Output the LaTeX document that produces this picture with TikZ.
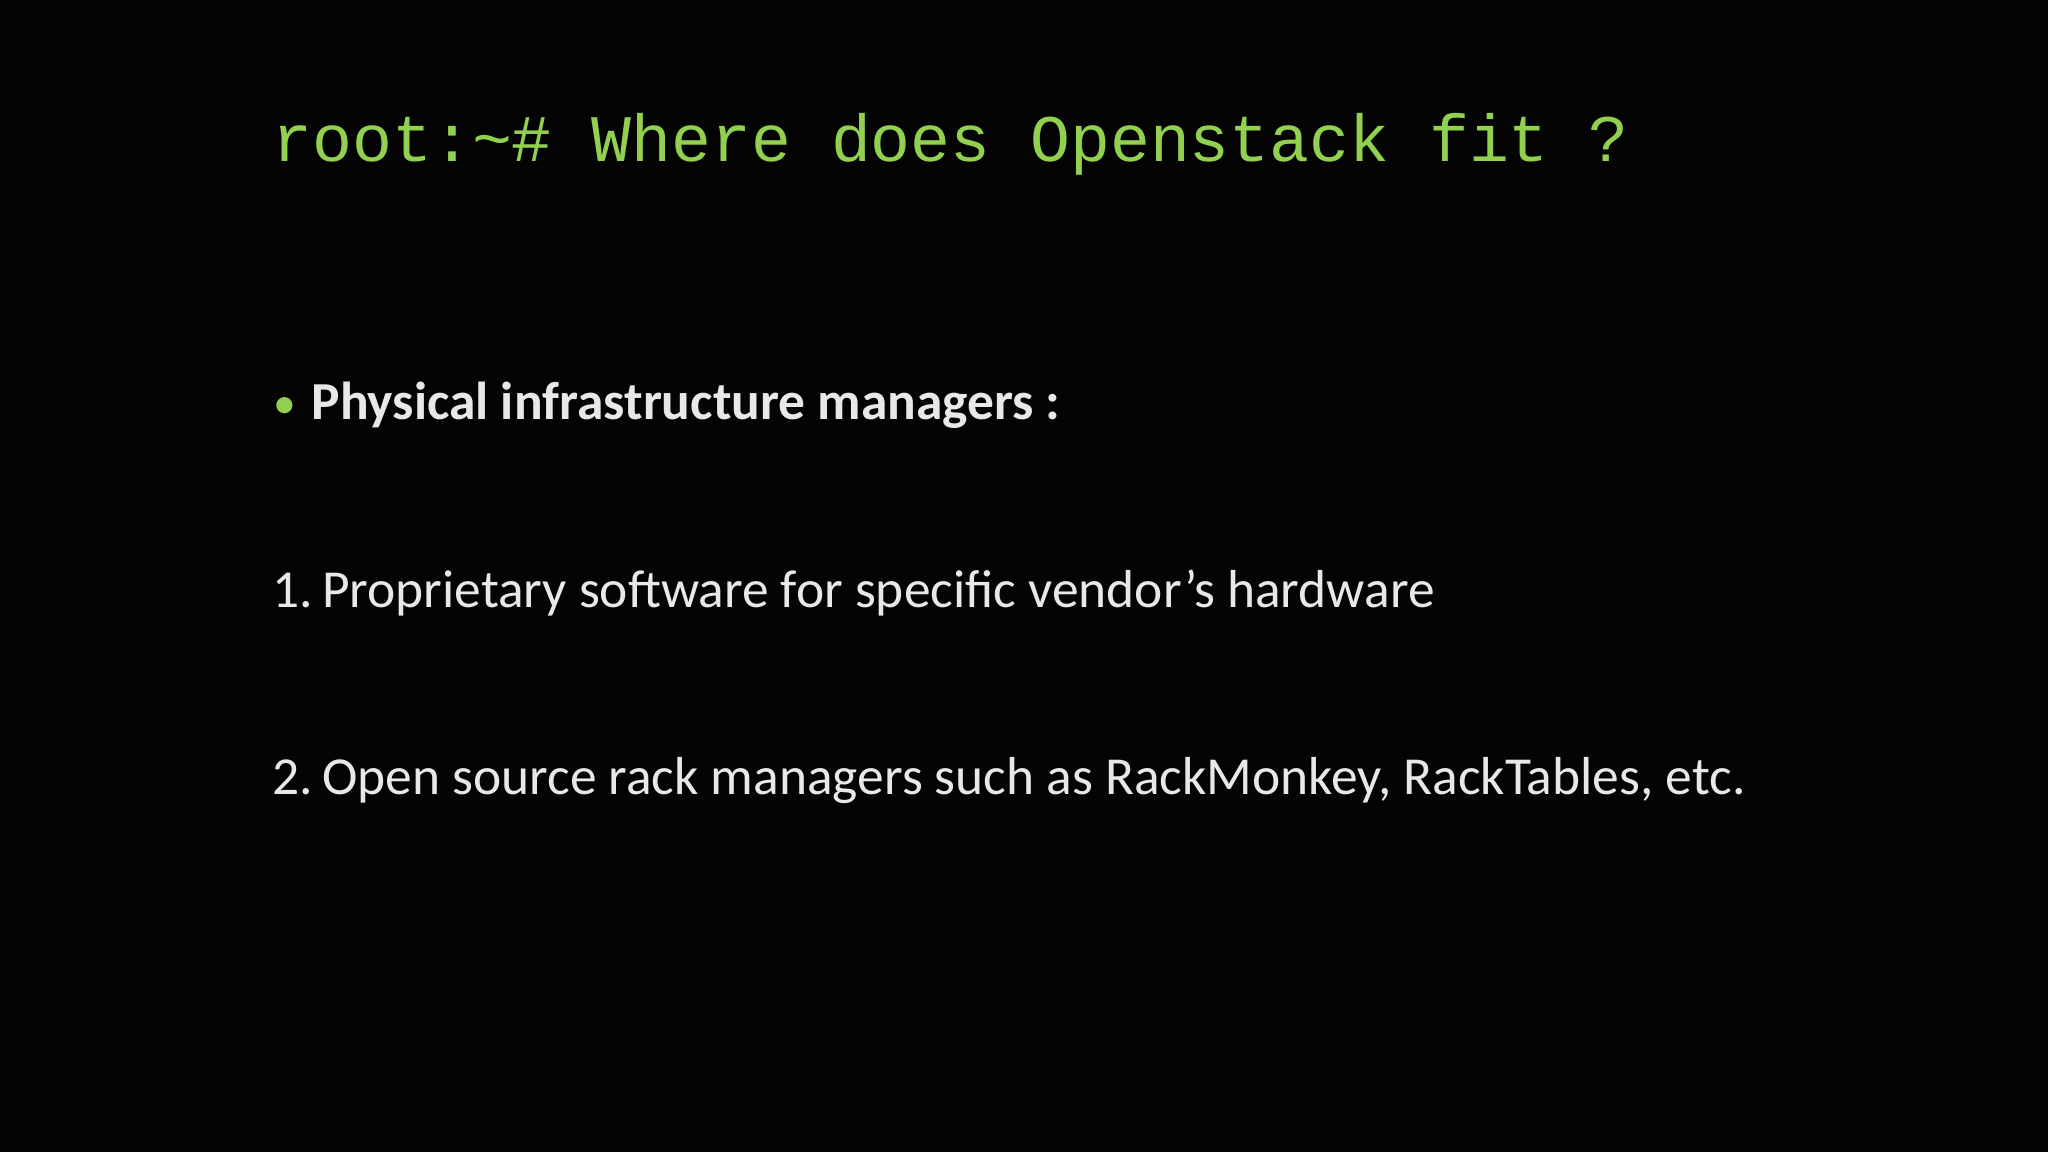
\documentclass[tikz,border=0pt]{standalone}
\usepackage{fontspec}
\setmainfont{Carlito}
\newfontfamily\monof{Liberation Mono}
\definecolor{termgreen}{RGB}{146,208,80}
\definecolor{bodytxt}{RGB}{232,232,232}
\definecolor{bgblack}{RGB}{4,4,4}
\begin{document}
\begin{tikzpicture}[x=0.01cm,y=-0.01cm,
  txt/.style={anchor=base west,inner sep=0pt,text=bodytxt}]
\fill[bgblack] (0,0) rectangle (2048,1152);
\useasboundingbox (0,0) rectangle (2048,1152);
\node[anchor=base west,inner sep=0pt,text=termgreen,font=\monof\fontsize{18.9pt}{20pt}\selectfont] (title) at (272,162) {root:\string~\# Where does Openstack fit ?};
\node[anchor=base west,inner sep=0pt,text=termgreen,font=\fontsize{13pt}{16pt}\selectfont] (dot) at (273,419) {\textbullet};
\node[txt,font=\bfseries\fontsize{15.2pt}{18pt}\selectfont] (head) at (311,420) {Physical infrastructure managers :};
\node[txt,font=\fontsize{15.2pt}{18pt}\selectfont] (one) at (272,607) {1.\,Proprietary software for specific vendor’s hardware};
\node[txt,font=\fontsize{15.2pt}{18pt}\selectfont] (two) at (272,794) {2.\,Open source rack managers such as RackMonkey, RackTables, etc.};
\end{tikzpicture}
\end{document}
